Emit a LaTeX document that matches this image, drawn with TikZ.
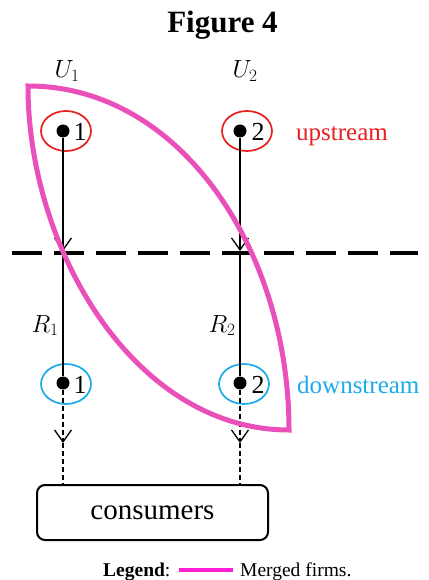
\documentclass[tikz,border=0pt]{standalone}
\usepackage{fontspec}
\setmainfont{Liberation Serif}
\usetikzlibrary{arrows.meta,shapes.geometric}
\definecolor{merge}{RGB}{234,80,186}
\definecolor{legmag}{RGB}{255,30,210}
\definecolor{upred}{RGB}{232,32,32}
\definecolor{downblue}{RGB}{28,170,232}
\begin{document}
\begin{tikzpicture}[x=1pt,y=-1pt,
  firm/.style={ellipse, draw, line width=1.7pt, minimum width=50pt, minimum height=40pt, inner sep=0pt},
  dotnode/.style={circle, fill=black, minimum size=13pt, inner sep=0pt},
  num/.style={font=\fontsize{26}{30}\selectfont, anchor=base, inner sep=0pt},
  lab/.style={font=\fontsize{27}{31}\selectfont, anchor=base, inner sep=0pt},
  side/.style={font=\fontsize{25}{30}\selectfont, anchor=base west, inner sep=0pt},
  flow/.style={line width=1.3pt},
  tipv/.style={-{Straight Barb[length=12pt,width=17pt]}},
  consbox/.style={draw, line width=2pt, rounded corners=8pt, minimum width=231pt, minimum height=55pt, inner sep=0pt}
]
\useasboundingbox (0,0) rectangle (428,580);

% title
\node[anchor=base, inner sep=0pt, font=\fontsize{31}{36}\selectfont\bfseries] (title) at (222.5,33) {Figure 4};

% upstream firms
\node[firm, draw=upred] (u1e) at (66,131) {};
\node[firm, draw=upred] (u2e) at (247,131) {};
\node[dotnode] (u1) at (63,131) {};
\node[dotnode] (u2) at (240,131) {};
\node[num] (u1n) at (80,141) {1};
\node[num] (u2n) at (258,141) {2};
\node[lab] (U1) at (67,78) {$U_1$};
\node[lab] (U2) at (245,78) {$U_2$};
\node[side, text=upred] (up) at (296,141) {upstream};

% downstream firms
\node[firm, draw=downblue] (d1e) at (66,384) {};
\node[firm, draw=downblue] (d2e) at (244,384) {};
\node[dotnode] (d1) at (63,383) {};
\node[dotnode] (d2) at (240,383) {};
\node[num] (d1n) at (80,393) {1};
\node[num] (d2n) at (258,393) {2};
\node[lab] (R1) at (45,332) {$R_1$};
\node[lab] (R2) at (222,332) {$R_2$};
\node[side, text=downblue] (down) at (297,393) {downstream};

% consumers
\node[consbox, font=\fontsize{29}{34}\selectfont] (cons) at (152.5,512.5) {consumers};

% dashed divider
\coordinate (divL) at (12,253);
\coordinate (divR) at (418,253);
\draw[line width=4pt, dash pattern=on 30pt off 12pt] (divL) -- (divR);

% vertical flows
\coordinate (a1) at (63,251);
\coordinate (a2) at (240,251);
\draw[flow, tipv] (u1) -- (a1);
\draw[flow] (a1) -- (d1);
\draw[flow, tipv] (u2) -- (a2);
\draw[flow] (a2) -- (d2);

\coordinate (b1) at (63,443);
\coordinate (b2) at (240,443);
\draw[flow, dash pattern=on 5pt off 3pt, tipv] (d1) -- (b1);
\draw[flow, dash pattern=on 5pt off 3pt] (b1) -- (cons.north -| d1);
\draw[flow, dash pattern=on 5pt off 3pt, tipv] (d2) -- (b2);
\draw[flow, dash pattern=on 5pt off 3pt] (b2) -- (cons.north -| d2);

% merged firms lens
\coordinate (mA) at (28,86);
\coordinate (mB) at (289,430);
\draw[merge, line width=5pt, line join=miter]
  (mA) .. controls (180,86) and (289,250) .. (mB)
       .. controls (135,430) and (28,250) .. cycle;

% legend
\node[anchor=base west, inner sep=0pt, font=\fontsize{19.5}{23}\selectfont] (leg) at (103,576) {\textbf{Legend}:};
\coordinate (l1) at (179,570);
\coordinate (l2) at (233,570);
\draw[legmag, line width=3.5pt] (l1) -- (l2);
\node[anchor=base west, inner sep=0pt, font=\fontsize{19.5}{23}\selectfont] (mf) at (240,576) {Merged firms.};
\end{tikzpicture}
\end{document}
